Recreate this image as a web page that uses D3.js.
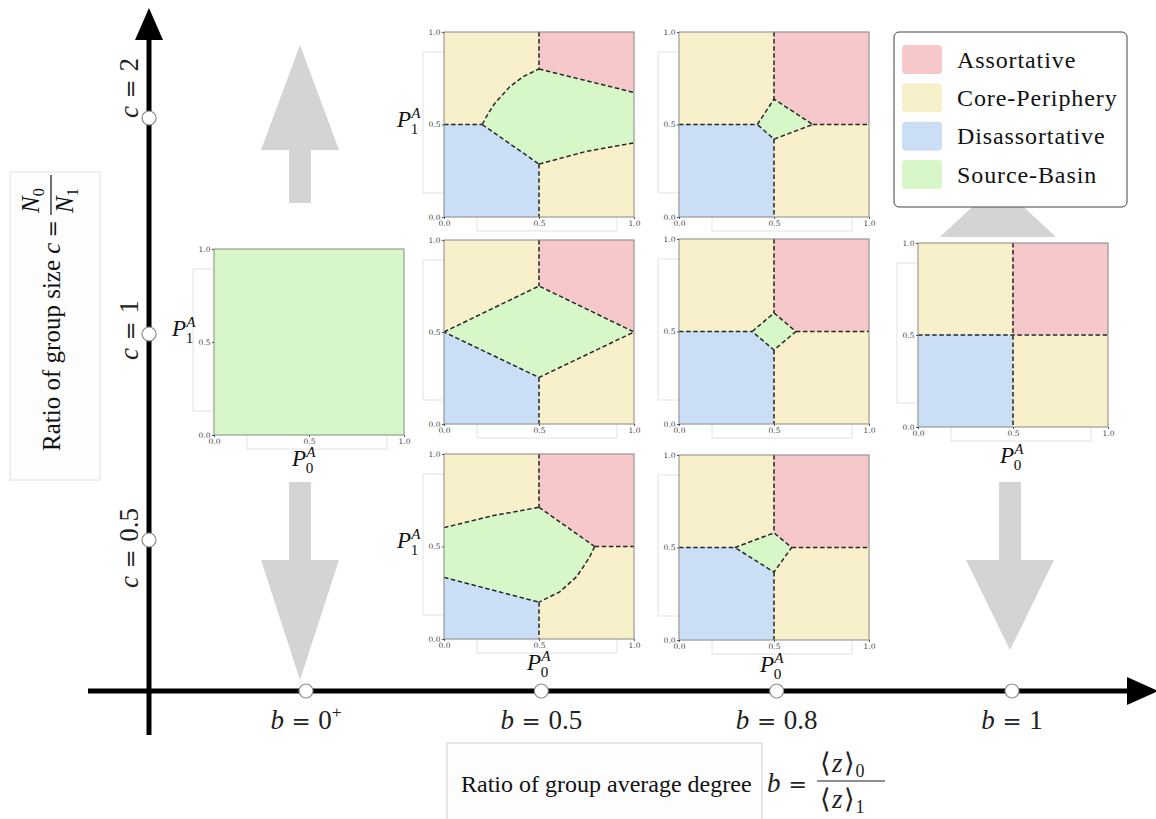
<!DOCTYPE html>
<html><head><meta charset="utf-8">
<script src="https://cdn.jsdelivr.net/npm/d3@7"></script>
<style>body{margin:0;background:#fff;} svg{display:block;}</style>
</head><body><svg id="c" width="1156" height="819"></svg>
<script>
// ---------------- data ----------------
const regimes = ["Assortative","Core-Periphery","Disassortative","Source-Basin"];
const bValues = ["0+","0.5","0.8","1"];
const cValues = ["2","1","0.5"];
const panelTicks = [0, 0.5, 1];

// b = 0.5, c = 2
const regionsB05C2 = [
  ["Core-Periphery", [[0,1],[0.5,1],[0.5,0.80],[0.417,0.759],[0.347,0.705],[0.268,0.615],[0.233,0.561],[0.201,0.5],[0,0.5]]],
  ["Assortative",    [[0.5,1],[1,1],[1,0.673],[0.5,0.80]]],
  ["Source-Basin",   [[0.201,0.5],[0.233,0.561],[0.268,0.615],[0.347,0.705],[0.417,0.759],[0.5,0.80],[1,0.673],[1,0.401],[0.75,0.355],[0.5,0.286]]],
  ["Disassortative", [[0,0],[0.5,0],[0.5,0.286],[0.201,0.5],[0,0.5]]],
  ["Core-Periphery", [[0.5,0],[1,0],[1,0.401],[0.75,0.355],[0.5,0.286]]]
];
const bordersB05C2 = [
  [[0.5,1],[0.5,0.80]],
  [[0.5,0.80],[1,0.673]],
  [[0.201,0.5],[0.233,0.561],[0.268,0.615],[0.347,0.705],[0.417,0.759],[0.5,0.80]],
  [[0,0.5],[0.201,0.5]],
  [[0.201,0.5],[0.5,0.286]],
  [[0.5,0.286],[0.5,0]],
  [[0.5,0.286],[0.75,0.355],[1,0.401]]
];

// b = 0.8, c = 2
const regionsB08C2 = [
  ["Core-Periphery", [[0,1],[0.5,1],[0.5,0.637],[0.412,0.5],[0,0.5]]],
  ["Assortative",    [[0.5,1],[1,1],[1,0.5],[0.704,0.5],[0.5,0.637]]],
  ["Source-Basin",   [[0.412,0.5],[0.5,0.637],[0.704,0.5],[0.5,0.421]]],
  ["Disassortative", [[0,0],[0.5,0],[0.5,0.421],[0.412,0.5],[0,0.5]]],
  ["Core-Periphery", [[0.5,0],[1,0],[1,0.5],[0.704,0.5],[0.5,0.421]]]
];
const bordersB08C2 = [
  [[0.5,1],[0.5,0.637]],
  [[0,0.5],[0.412,0.5]],
  [[0.704,0.5],[1,0.5]],
  [[0.5,0.421],[0.5,0]],
  [[0.412,0.5],[0.5,0.637],[0.704,0.5],[0.5,0.421],[0.412,0.5]]
];

// b = 0+, c = 1
const regionsB0C1 = [
  ["Source-Basin", [[0,0],[1,0],[1,1],[0,1]]]
];
const bordersB0C1 = [];

// b = 0.5, c = 1
const regionsB05C1 = [
  ["Core-Periphery", [[0,1],[0.5,1],[0.5,0.75],[0,0.5]]],
  ["Assortative",    [[0.5,1],[1,1],[1,0.5],[0.5,0.75]]],
  ["Source-Basin",   [[0,0.5],[0.5,0.75],[1,0.5],[0.5,0.253]]],
  ["Disassortative", [[0,0],[0.5,0],[0.5,0.253],[0,0.5]]],
  ["Core-Periphery", [[0.5,0],[1,0],[1,0.5],[0.5,0.253]]]
];
const bordersB05C1 = [
  [[0.5,1],[0.5,0.75]],
  [[0.5,0.253],[0.5,0]],
  [[0,0.5],[0.5,0.75],[1,0.5],[0.5,0.253],[0,0.5]]
];

// b = 0.8, c = 1
const regionsB08C1 = [
  ["Core-Periphery", [[0,1],[0.5,1],[0.5,0.6],[0.385,0.5],[0,0.5]]],
  ["Assortative",    [[0.5,1],[1,1],[1,0.5],[0.615,0.5],[0.5,0.6]]],
  ["Source-Basin",   [[0.385,0.5],[0.5,0.6],[0.615,0.5],[0.5,0.4]]],
  ["Disassortative", [[0,0],[0.5,0],[0.5,0.4],[0.385,0.5],[0,0.5]]],
  ["Core-Periphery", [[0.5,0],[1,0],[1,0.5],[0.615,0.5],[0.5,0.4]]]
];
const bordersB08C1 = [
  [[0.5,1],[0.5,0.6]],
  [[0,0.5],[0.385,0.5]],
  [[0.615,0.5],[1,0.5]],
  [[0.5,0.4],[0.5,0]],
  [[0.385,0.5],[0.5,0.6],[0.615,0.5],[0.5,0.4],[0.385,0.5]]
];

// b = 1, c = 1
const regionsB1C1 = [
  ["Core-Periphery", [[0,1],[0.5,1],[0.5,0.5],[0,0.5]]],
  ["Assortative",    [[0.5,1],[1,1],[1,0.5],[0.5,0.5]]],
  ["Disassortative", [[0,0],[0.5,0],[0.5,0.5],[0,0.5]]],
  ["Core-Periphery", [[0.5,0],[1,0],[1,0.5],[0.5,0.5]]]
];
const bordersB1C1 = [
  [[0.5,1],[0.5,0]],
  [[0,0.5],[1,0.5]]
];

// b = 0.5, c = 0.5
const regionsB05C05 = [
  ["Core-Periphery", [[0,1],[0.5,1],[0.5,0.712],[0.25,0.665],[0,0.602]]],
  ["Assortative",    [[0.5,1],[1,1],[1,0.5],[0.793,0.5],[0.5,0.712]]],
  ["Source-Basin",   [[0,0.602],[0.25,0.665],[0.5,0.712],[0.793,0.5],[0.765,0.44],[0.73,0.385],[0.697,0.336],[0.609,0.255],[0.5,0.199],[0,0.333]]],
  ["Disassortative", [[0,0],[0.5,0],[0.5,0.199],[0,0.333]]],
  ["Core-Periphery", [[0.5,0],[1,0],[1,0.5],[0.793,0.5],[0.765,0.44],[0.73,0.385],[0.697,0.336],[0.609,0.255],[0.5,0.199]]]
];
const bordersB05C05 = [
  [[0.5,1],[0.5,0.712]],
  [[0,0.602],[0.25,0.665],[0.5,0.712]],
  [[0.5,0.712],[0.793,0.5]],
  [[0.793,0.5],[1,0.5]],
  [[0.793,0.5],[0.765,0.44],[0.73,0.385],[0.697,0.336],[0.609,0.255],[0.5,0.199]],
  [[0,0.333],[0.5,0.199]],
  [[0.5,0.199],[0.5,0]]
];

// b = 0.8, c = 0.5
const regionsB08C05 = [
  ["Core-Periphery", [[0,1],[0.5,1],[0.5,0.579],[0.294,0.5],[0,0.5]]],
  ["Assortative",    [[0.5,1],[1,1],[1,0.5],[0.593,0.5],[0.5,0.579]]],
  ["Source-Basin",   [[0.294,0.5],[0.5,0.579],[0.593,0.5],[0.5,0.367]]],
  ["Disassortative", [[0,0],[0.5,0],[0.5,0.367],[0.294,0.5],[0,0.5]]],
  ["Core-Periphery", [[0.5,0],[1,0],[1,0.5],[0.593,0.5],[0.5,0.367]]]
];
const bordersB08C05 = [
  [[0.5,1],[0.5,0.579]],
  [[0,0.5],[0.294,0.5]],
  [[0.593,0.5],[1,0.5]],
  [[0.5,0.367],[0.5,0]],
  [[0.294,0.5],[0.5,0.579],[0.593,0.5],[0.5,0.367],[0.294,0.5]]
];

// ---------------- styles / layout ----------------
const regimeFill = d3.scaleOrdinal().domain(regimes)
  .range(["#f7c8ca","#f7f0cb","#cadff5","#d8f7c9"]);
const SERIF = "'Liberation Serif','Times New Roman',serif";
const MATHOP = "'DejaVu Serif',serif";

// panel layout table: [left, top, width, height], label offsets
const panels = [
  {b:"0.5", c:"2",   regions:regionsB05C2,  borders:bordersB05C2,  box:[444,32,190,185],  p1:[-47,95],  p0:null},
  {b:"0.8", c:"2",   regions:regionsB08C2,  borders:bordersB08C2,  box:[679,32,190,185],  p1:null,     p0:null},
  {b:"0+",  c:"1",   regions:regionsB0C1,   borders:bordersB0C1,   box:[214,249,190,186], p1:[-42,87],  p0:[78,31]},
  {b:"0.5", c:"1",   regions:regionsB05C1,  borders:bordersB05C1,  box:[444,240,190,184], p1:null,     p0:null},
  {b:"0.8", c:"1",   regions:regionsB08C1,  borders:bordersB08C1,  box:[679,239,190,185], p1:null,     p0:null},
  {b:"1",   c:"1",   regions:regionsB1C1,   borders:bordersB1C1,   box:[918,243,190,184], p1:null,     p0:[82,36]},
  {b:"0.5", c:"0.5", regions:regionsB05C05, borders:bordersB05C05, box:[444,454,190,185], p1:[-47,94],  p0:[83,31]},
  {b:"0.8", c:"0.5", regions:regionsB08C05, borders:bordersB08C05, box:[679,455,190,185], p1:null,     p0:[81,32]}
];

const svg = d3.select("#c");
svg.append("rect").attr("width",1156).attr("height",819).attr("fill","#fff");

// ---------------- main axes scales ----------------
const bScale = d3.scalePoint().domain(bValues).range([306,1012]);
const cScale = d3.scaleOrdinal().domain(cValues).range([118,334,540]);
const AX_X = 149, AX_Y = 691;

// gray arrows
const gray = "#d4d4d4";
function arrow(cx, shaftEnd, headY, tipY, halfHead, halfShaft) {
  const pts = [[cx,tipY],[cx+halfHead,headY],[cx+halfShaft,headY],[cx+halfShaft,shaftEnd],
               [cx-halfShaft,shaftEnd],[cx-halfShaft,headY],[cx-halfHead,headY]];
  svg.append("polygon").attr("points", pts.map(p=>p.join(",")).join(" ")).attr("fill", gray);
}
const b0x = bScale("0+") - 6, b1x = bScale("1") - 2;
arrow(b0x, 203, 150, 45, 39, 11);
arrow(b0x, 482, 560, 680, 39, 11);
arrow(b1x, 482, 560, 650, 44, 11);
svg.append("polygon").attr("points",`${b1x-12},183 ${b1x-12+58},237 ${b1x-12-58},237`).attr("fill",gray);

// ---------------- panels ----------------
function pLabel(g, x, y, supT, subT, size) {
  g.append("text").attr("x",x).attr("y",y).attr("font-family",SERIF)
    .attr("font-style","italic").attr("font-size",size).attr("fill","#111").text("P");
  g.append("text").attr("x",x+size*0.62).attr("y",y-size*0.37).attr("font-family",SERIF)
    .attr("font-style","italic").attr("font-size",size*0.66).attr("fill","#111").text(supT);
  g.append("text").attr("x",x+size*0.6).attr("y",y+size*0.3).attr("font-family",SERIF)
    .attr("font-size",size*0.66).attr("fill","#111").text(subT);
}

const pLine = d3.line();
panels.forEach(p => {
  const [L,T,w,h] = p.box;
  const x = d3.scaleLinear().domain([0,1]).range([L, L+w]);
  const y = d3.scaleLinear().domain([0,1]).range([T+h, T]);
  const g = svg.append("g");

  // faint label brackets
  const fl = g.append("g").attr("stroke","#e2e2e2").attr("fill","none").attr("stroke-width",1);
  fl.append("path").attr("d", `M${L},${T+20}H${L-21}V${T+h-24}H${L}`);
  fl.append("path").attr("d", `M${L+33},${T+h}V${T+h+14}H${L+w-17}V${T+h}`);

  g.selectAll("path.reg").data(p.regions).join("path").attr("class","reg")
    .attr("d", d => pLine(d[1].map(q => [x(q[0]), y(q[1])])) + "Z")
    .attr("fill", d => regimeFill(d[0]))
    .attr("stroke", d => regimeFill(d[0])).attr("stroke-width",0.6);

  g.selectAll("path.bd").data(p.borders).join("path").attr("class","bd")
    .attr("d", d => pLine(d.map(q => [x(q[0]), y(q[1])])))
    .attr("fill","none").attr("stroke","#262626").attr("stroke-width",1.5)
    .attr("stroke-dasharray","4.5 2.6");

  g.append("rect").attr("x",L).attr("y",T).attr("width",w).attr("height",h)
    .attr("fill","none").attr("stroke","#8a8a8a").attr("stroke-width",1);

  const fmt = d3.format(".1f");
  const ax = g.append("g").attr("transform",`translate(0,${T+h})`)
    .call(d3.axisBottom(x).tickValues(panelTicks).tickFormat(fmt).tickSize(2).tickSizeOuter(0).tickPadding(1.5));
  const ay = g.append("g").attr("transform",`translate(${L},0)`)
    .call(d3.axisLeft(y).tickValues(panelTicks).tickFormat(fmt).tickSize(2).tickSizeOuter(0).tickPadding(1.5));
  [ax, ay].forEach(a => {
    a.select(".domain").remove();
    a.selectAll("line").attr("stroke","#555");
    a.selectAll("text").attr("font-size",7.5).attr("font-family","'DejaVu Serif',serif").attr("fill","#444");
  });

  if (p.p1) pLabel(svg, L + p.p1[0], T + p.p1[1], "A", "1", 23);
  if (p.p0) pLabel(svg, L + p.p0[0], T + h + p.p0[1], "A", "0", 23);
});

// ---------------- legend ----------------
const lg = svg.append("g");
lg.append("rect").attr("x",894).attr("y",32).attr("width",233).attr("height",175).attr("rx",5)
  .attr("fill","#fff").attr("stroke","#444").attr("stroke-width",1);
const ly = d3.scalePoint().domain(regimes).range([59.5,174.5]);
lg.selectAll("rect.sw").data(regimes).join("rect").attr("class","sw")
  .attr("x",902).attr("y",d=>ly(d)-14.5).attr("width",40).attr("height",29).attr("rx",4)
  .attr("fill",d=>regimeFill(d));
lg.selectAll("text.lt").data(regimes).join("text").attr("class","lt")
  .attr("x",957).attr("y",d=>ly(d)+8).attr("font-family",SERIF).attr("font-size",24)
  .attr("letter-spacing",0.9).attr("fill","#111").text(d=>d);

// ---------------- main axes ----------------
svg.append("line").attr("x1",AX_X).attr("x2",AX_X).attr("y1",36).attr("y2",735)
  .attr("stroke","#000").attr("stroke-width",5);
svg.append("polygon").attr("points",`${AX_X},8 ${AX_X-14},40 ${AX_X+14},40`).attr("fill","#000");
svg.append("line").attr("x1",88).attr("x2",1130).attr("y1",AX_Y).attr("y2",AX_Y)
  .attr("stroke","#000").attr("stroke-width",5);
svg.append("polygon").attr("points",`1158,${AX_Y} 1127,${AX_Y-14} 1127,${AX_Y+14}`).attr("fill","#000");

svg.selectAll("circle.bm").data(bValues).join("circle").attr("class","bm")
  .attr("cx",d=>bScale(d)).attr("cy",AX_Y).attr("r",7)
  .attr("fill","#fff").attr("stroke","#8c8c8c").attr("stroke-width",1.2);
svg.selectAll("circle.cm").data(cValues).join("circle").attr("class","cm")
  .attr("cx",AX_X).attr("cy",d=>cScale(d)).attr("r",7)
  .attr("fill","#fff").attr("stroke","#8c8c8c").attr("stroke-width",1.2);

// math "v = value" helper
function eqText(t, sym, val, size) {
  t.append("tspan").attr("font-style","italic").text(sym);
  t.append("tspan").attr("dx",size*0.28).attr("font-family",MATHOP).attr("font-size",size*0.85).text("=");
  t.append("tspan").attr("dx",size*0.28).text(val === "0+" ? "0" : val);
  if (val === "0+") t.append("tspan").attr("font-size",size*0.65).attr("dy",-size*0.42).text("+");
}

// b labels
svg.selectAll("text.bl").data(bValues).join("text").attr("class","bl")
  .attr("x",d=>bScale(d)).attr("y",729).attr("text-anchor","middle")
  .attr("font-family",SERIF).attr("font-size",27).attr("fill","#222")
  .each(function(d){ eqText(d3.select(this), "b", d, 27); });

// c labels
const cLabelCenter = d3.scaleOrdinal().domain(cValues).range([88,330,548]);
svg.selectAll("text.cl").data(cValues).join("text").attr("class","cl")
  .attr("transform",d=>`translate(138,${cLabelCenter(d)}) rotate(-90)`)
  .attr("text-anchor","middle").attr("font-family",SERIF).attr("font-size",27).attr("fill","#222")
  .each(function(d){ eqText(d3.select(this), "c", d, 27); });

// ---------------- titles ----------------
svg.append("rect").attr("x",10).attr("y",172).attr("width",90).attr("height",308)
  .attr("fill","#fdfdfd").attr("stroke","#e0e0e0");
svg.append("rect").attr("x",447).attr("y",743).attr("width",315).attr("height",90)
  .attr("fill","#fdfdfd").attr("stroke","#d0d0d0");

// y title (rotated), laid out so that the fraction ends near the top of the box
const yt = svg.append("g");
const yMain = yt.append("text").attr("x",0).attr("y",0).attr("font-family",SERIF).attr("font-size",25)
  .attr("fill","#111");
yMain.append("tspan").text("Ratio of group size ");
yMain.append("tspan").attr("font-style","italic").text("c");
yMain.append("tspan").attr("dx",5).attr("font-family",MATHOP).attr("font-size",21).text("=");
const mainLen = yMain.node().getComputedTextLength() + 5;
const fx = mainLen + 5, fw = 40;
yt.append("line").attr("x1",fx).attr("x2",fx+fw).attr("y1",-9).attr("y2",-9).attr("stroke","#111").attr("stroke-width",1.2);
[["0",-21],["1",13]].forEach(([s,yy]) => {
  const t = yt.append("text").attr("x",fx+2).attr("y",yy).attr("font-family",SERIF).attr("font-size",25).attr("fill","#111");
  t.append("tspan").attr("font-style","italic").text("N");
  t.append("tspan").attr("font-size",16).attr("dy",5).text(s);
});
const totalLen = fx + fw;
yt.attr("transform",`translate(60,${175 + totalLen}) rotate(-90)`);

// x title
svg.append("text").attr("x",461).attr("y",792).attr("font-family",SERIF).attr("font-size",24)
  .attr("fill","#111").text("Ratio of group average degree");
const xm = svg.append("g");
xm.append("text").attr("x",767).attr("y",792).attr("font-family",SERIF).attr("font-size",27)
  .attr("fill","#222").call(t=>{
    t.append("tspan").attr("font-style","italic").text("b");
    t.append("tspan").attr("dx",8).attr("font-family",MATHOP).attr("font-size",22).text("=");
  });
xm.append("line").attr("x1",817).attr("x2",885).attr("y1",781).attr("y2",781).attr("stroke","#222").attr("stroke-width",1.1);
function zfrac(y, s) {
  const t = xm.append("text").attr("x",820).attr("y",y).attr("font-family",SERIF).attr("font-size",27).attr("fill","#222");
  t.append("tspan").text("\u27E8");
  t.append("tspan").attr("font-style","italic").attr("dx",1).text("z");
  t.append("tspan").attr("dx",1).text("\u27E9");
  t.append("tspan").attr("font-size",18).attr("dy",5).attr("dx",1).text(s);
}
zfrac(772, "0");
zfrac(808, "1");
</script></body></html>
